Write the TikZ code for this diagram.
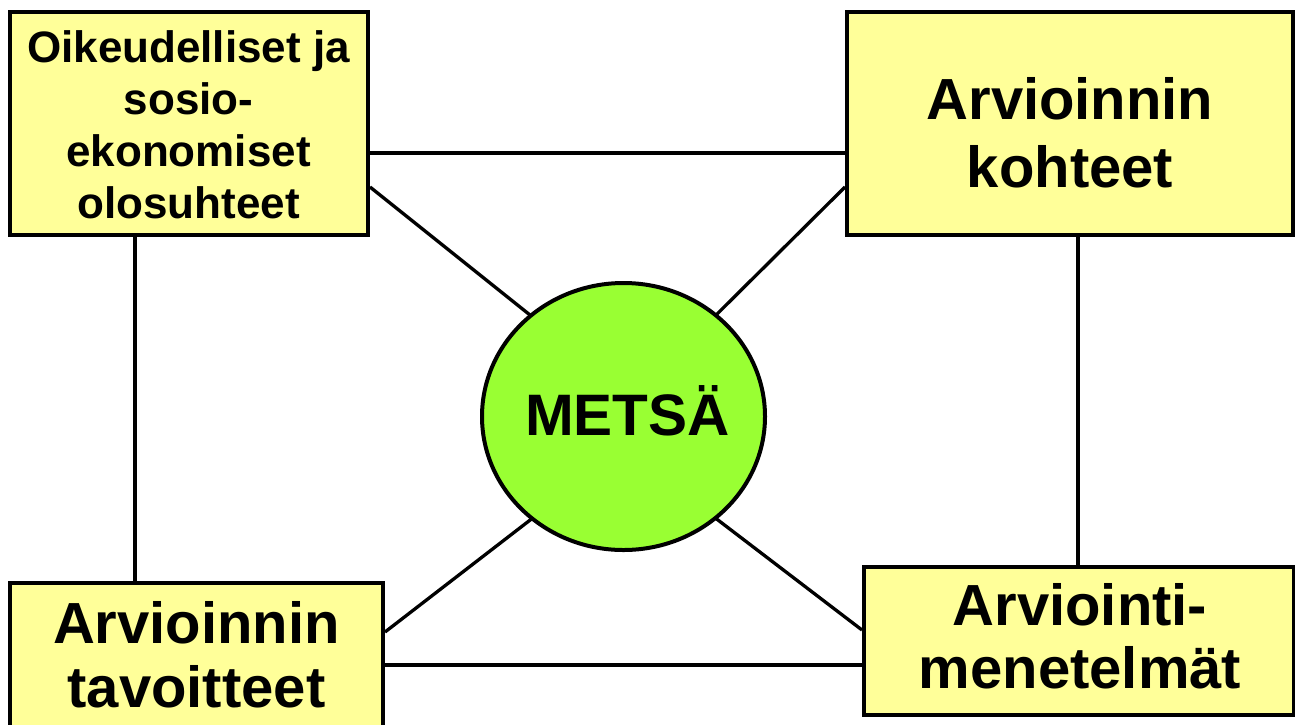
\documentclass[tikz,border=0pt]{standalone}
\usepackage{fontspec}
\setmainfont{Liberation Sans}
\usetikzlibrary{shapes.geometric}
\definecolor{boxyellow}{HTML}{FFFF99}
\definecolor{forestgreen}{HTML}{99FF33}
\tikzset{
  box/.style={draw=black, line width=4pt, fill=boxyellow, inner sep=0pt},
  link/.style={draw=black, line width=3.3pt},
  bigtxt/.style={align=center, inner sep=0pt, font=\bfseries\fontsize{58}{63}\selectfont},
}
\begin{document}
\begin{tikzpicture}[x=1pt, y=-1pt]
\useasboundingbox (0,0) rectangle (1295,724);
\clip (0,0) rectangle (1295,724);
% boxes
\node[box, minimum width=358pt, minimum height=223pt] (tl) at (189,123.5) {};
\node[box, minimum width=446pt, minimum height=223pt] (tr) at (1070,123.5) {};
\node[box, minimum width=373pt, minimum height=177pt] (bl) at (196.5,671.5) {};
\node[box, minimum width=430pt, minimum height=148pt] (br) at (1079,641) {};
% helper coordinates
\coordinate (vx1) at (135,0);
\coordinate (vx2) at (1078,0);
\coordinate (hy1) at (0,153);
\coordinate (hy2) at (0,665);
\coordinate (dy1) at (0,187);
\coordinate (dy2) at (0,187);
\coordinate (dy3) at (0,632);
\coordinate (dy4) at (0,630);
\coordinate (e1) at (540,323);
\coordinate (e2) at (708,323);
\coordinate (e3) at (540,512.4);
\coordinate (e4) at (708,512.4);
% connectors
\draw[link] (tl.east |- hy1) -- (tr.west |- hy1);
\draw[link] (bl.east |- hy2) -- (br.west |- hy2);
\draw[link] (tl.south -| vx1) -- (bl.north -| vx1);
\draw[link] (tr.south -| vx2) -- (br.north -| vx2);
\draw[link] (tl.east |- dy1) -- (e1);
\draw[link] (tr.west |- dy2) -- (e2);
\draw[link] (bl.east |- dy3) -- (e3);
\draw[link] (br.west |- dy4) -- (e4);
% centre
\node[ellipse, draw=black, line width=4pt, fill=forestgreen, minimum width=283pt, minimum height=267pt, inner sep=0pt] (m) at (623.5,416.5) {};
\node[anchor=base, inner sep=0pt, font=\bfseries\fontsize{58.5}{63}\selectfont] (mt) at (627.5,435) {METSÄ};
% texts
\node[align=center, inner sep=0pt, font=\bfseries\fontsize{44}{52}\selectfont] (tlt) at (188.5,125) {Oikeudelliset ja\\sosio-\\ekonomiset\\olosuhteet};
\node[bigtxt, font=\bfseries\fontsize{58}{68}\selectfont] (trt) at (1070,132.5) {Arvioinnin\\kohteet};
\node[bigtxt, font=\bfseries\fontsize{58}{63.5}\selectfont] (blt) at (196.5,655) {Arvioinnin\\tavoitteet};
\node[bigtxt] (brt) at (1080,636.5) {Arviointi-\\menetelmät};
\end{tikzpicture}
\end{document}
